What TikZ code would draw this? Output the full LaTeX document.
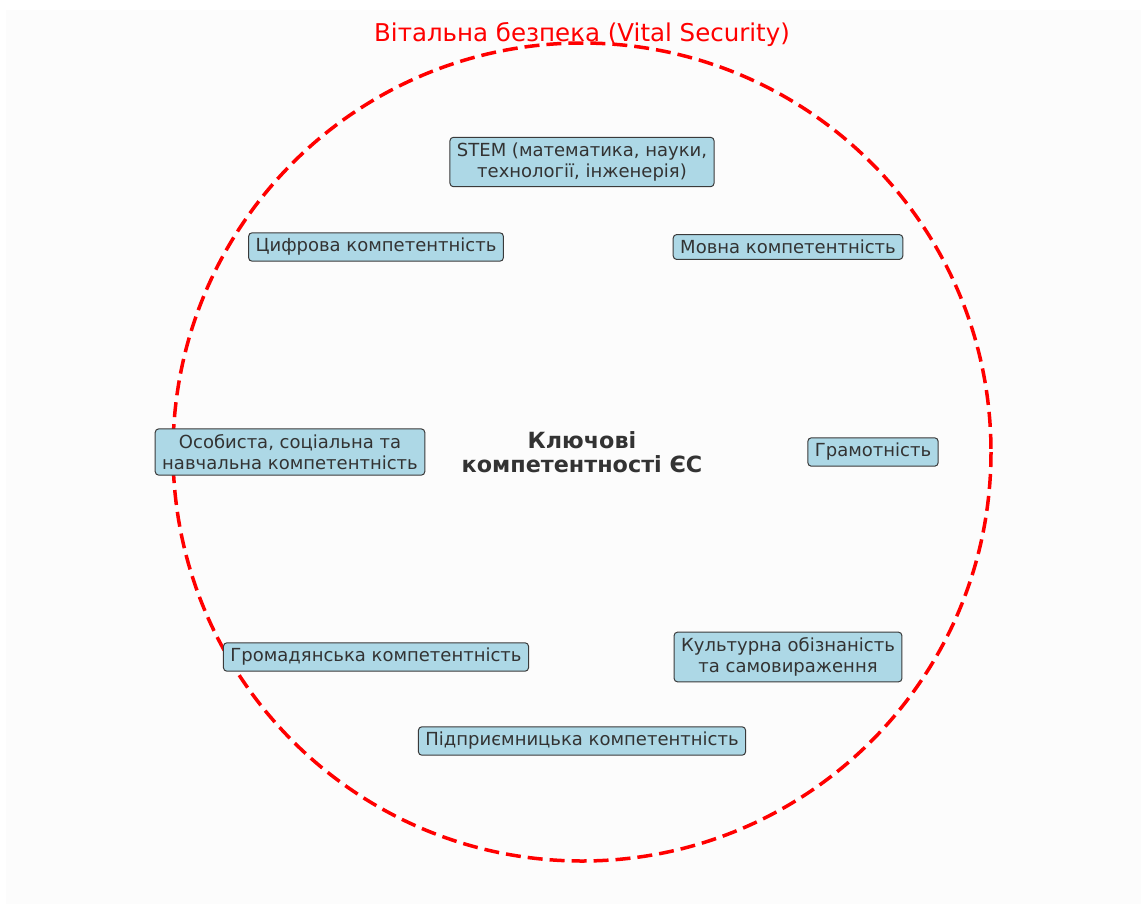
\documentclass[tikz,border=0pt]{standalone}
\usepackage{fontspec}
\setmainfont{DejaVu Sans}
\definecolor{boxfill}{HTML}{ADD8E6}
\definecolor{boxedge}{HTML}{3A3A3A}
\definecolor{ink}{HTML}{333333}
\definecolor{paper}{HTML}{FCFCFC}
\tikzset{
  comp/.style={draw=boxedge, fill=boxfill, line width=1pt, rounded corners=3.5pt,
    text=ink, font=\fontsize{18}{21}\selectfont, align=center,
    inner xsep=7pt, inner ysep=5.5pt},
  ring/.style={draw=red, line width=3.5pt, dash pattern=on 15pt off 7pt},
}
\begin{document}
\begin{tikzpicture}[x=1pt, y=-1pt]
  \useasboundingbox (0,0) rectangle (1145,908);
  \fill[white] (0,0) rectangle (1145,908);
  \fill[paper] (6,10) rectangle (1141,904);

  % outer dashed ring
  \coordinate (c) at (582,452);
  \draw[ring] (c) circle[radius=409];
  \node[text=red, font=\fontsize{24.5}{29}\selectfont] (title) at (582,35)
    {Вітальна безпека (Vital Security)};

  % centre label
  \node[text=ink, font=\bfseries\fontsize{22.3}{24.5}\selectfont, align=center] (core) at (c)
    {Ключові\\компетентності ЄС};

  % the eight competences around the centre
  \node[comp] (stem) at (582,162) {STEM (математика, науки,\\технології, інженерія)};
  \node[comp] (lang) at (788,247) {Мовна компетентність};
  \node[comp] (lit)  at (873,452) {Грамотність};
  \node[comp] (cult) at (788,657) {Культурна обізнаність\\та самовираження};
  \node[comp] (entr) at (582,741) {Підприємницька компетентність};
  \node[comp] (civ)  at (376,657) {Громадянська компетентність};
  \node[comp] (pers) at (290,452) {Особиста, соціальна та\\навчальна компетентність};
  \node[comp] (dig)  at (376,247) {Цифрова компетентність};
\end{tikzpicture}
\end{document}
